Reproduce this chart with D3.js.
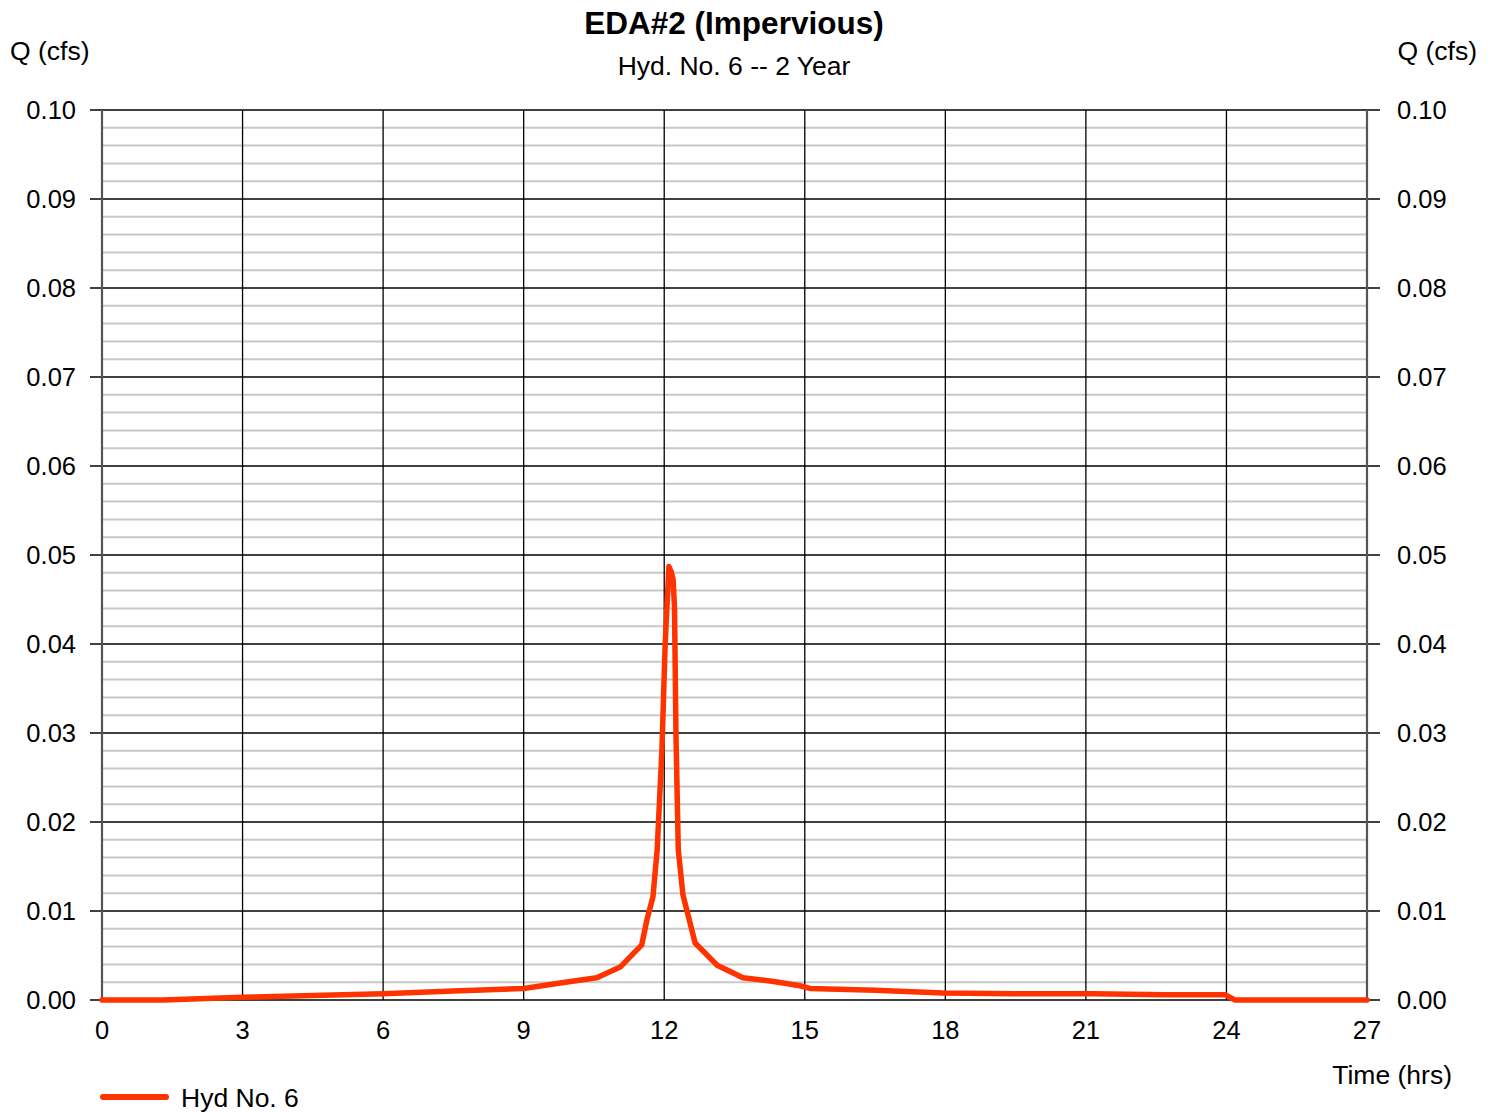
<!DOCTYPE html>
<html>
<head>
<meta charset="utf-8">
<script src="https://cdn.jsdelivr.net/npm/d3@7"></script>
<style>
  html, body { margin: 0; padding: 0; background: #fff; }
  svg { display: block; font-family: Arial, "Liberation Sans", sans-serif; }
</style>
</head>
<body>
<svg id="chart" width="1496" height="1112"></svg>
<script>
// Hydrograph: time (hrs) and discharge Q (cfs)
const timeHrs = [0, 1.3, 3, 4.5, 6, 7.5, 9, 9.78, 10.56, 11.06, 11.52, 11.63, 11.76, 11.85, 11.95, 12.02, 12.10, 12.15, 12.19, 12.22, 12.25, 12.30, 12.40, 12.66, 13.13, 13.68, 14.3, 14.9, 15.11, 16.5, 17.95, 19.5, 21.15, 22.7, 23.2, 23.97, 24.18, 27];
const flowCfs = [0, 0, 0.0003, 0.0005, 0.0007, 0.0010, 0.0013, 0.0019, 0.0025, 0.0037, 0.0062, 0.0090, 0.0116, 0.0169, 0.0280, 0.0400, 0.0487, 0.0481, 0.0472, 0.0440, 0.0300, 0.0169, 0.0118, 0.0064, 0.0039, 0.0025, 0.0021, 0.0016, 0.0013, 0.0011, 0.0008, 0.0007, 0.0007, 0.0006, 0.0006, 0.0006, 0, 0];
const xTicks = [0, 3, 6, 9, 12, 15, 18, 21, 24, 27];
const yTicks = [0, 0.01, 0.02, 0.03, 0.04, 0.05, 0.06, 0.07, 0.08, 0.09, 0.10];
const yMinor = d3.range(0, 0.1001, 0.002).filter((v, i) => i % 5 !== 0);

const svg = d3.select("#chart");
const plotL = 102, plotR = 1367, plotT = 110, plotB = 1000;

const x = d3.scaleLinear().domain([0, 27]).range([plotL, plotR]);
const y = d3.scaleLinear().domain([0, 0.10]).range([plotB, plotT]);

// minor horizontal grid
svg.append("g").selectAll("line").data(yMinor).join("line")
  .attr("x1", plotL).attr("x2", plotR)
  .attr("y1", d => y(d)).attr("y2", d => y(d))
  .attr("stroke", "#c8c8c8").attr("stroke-width", 2);

// major horizontal grid (extends into tick marks on both sides)
svg.append("g").selectAll("line").data(yTicks).join("line")
  .attr("x1", plotL - 12).attr("x2", plotR + 13)
  .attr("y1", d => y(d)).attr("y2", d => y(d))
  .attr("stroke", "#000").attr("stroke-width", 1.3);

// vertical grid
svg.append("g").selectAll("line").data(xTicks).join("line")
  .attr("x1", d => x(d)).attr("x2", d => x(d))
  .attr("y1", plotT).attr("y2", plotB)
  .attr("stroke", d => (d === 0 || d === 27) ? "#555" : "#000")
  .attr("stroke-width", d => (d === 0 || d === 27) ? 2.2 : 1.3);

// axis tick labels
const fmt = d3.format(".2f");
svg.append("g").selectAll("text").data(yTicks).join("text")
  .attr("x", 76).attr("y", d => y(d)).attr("dy", "0.35em")
  .attr("text-anchor", "end").attr("font-size", 25.5).text(fmt);
svg.append("g").selectAll("text").data(yTicks).join("text")
  .attr("x", 1397).attr("y", d => y(d)).attr("dy", "0.35em")
  .attr("text-anchor", "start").attr("font-size", 25.5).text(fmt);
svg.append("g").selectAll("text").data(xTicks).join("text")
  .attr("x", d => x(d)).attr("y", 1039)
  .attr("text-anchor", "middle").attr("font-size", 25.5).text(d => d);

// hydrograph line
const line = d3.line().x((d, i) => x(timeHrs[i])).y(d => y(d));
svg.append("path").datum(flowCfs)
  .attr("d", line).attr("fill", "none")
  .attr("stroke", "#ff3300").attr("stroke-width", 5.5)
  .attr("stroke-linejoin", "round").attr("stroke-linecap", "round");

// titles
svg.append("text").attr("x", 734).attr("y", 34).attr("text-anchor", "middle")
  .attr("font-size", 31.5).attr("font-weight", "bold").text("EDA#2 (Impervious)");
svg.append("text").attr("x", 734).attr("y", 75).attr("text-anchor", "middle")
  .attr("font-size", 26.5).text("Hyd. No. 6 -- 2 Year");
svg.append("text").attr("x", 10).attr("y", 60).attr("font-size", 26.5).text("Q (cfs)");
svg.append("text").attr("x", 1477).attr("y", 60).attr("text-anchor", "end")
  .attr("font-size", 26.5).text("Q (cfs)");
svg.append("text").attr("x", 1452).attr("y", 1084).attr("text-anchor", "end")
  .attr("font-size", 26.5).text("Time (hrs)");

// legend
svg.append("line").attr("x1", 103).attr("x2", 166).attr("y1", 1097).attr("y2", 1097)
  .attr("stroke", "#ff3300").attr("stroke-width", 6).attr("stroke-linecap", "round");
svg.append("text").attr("x", 181).attr("y", 1107).attr("font-size", 26.5).text("Hyd No. 6");
</script>
</body>
</html>
